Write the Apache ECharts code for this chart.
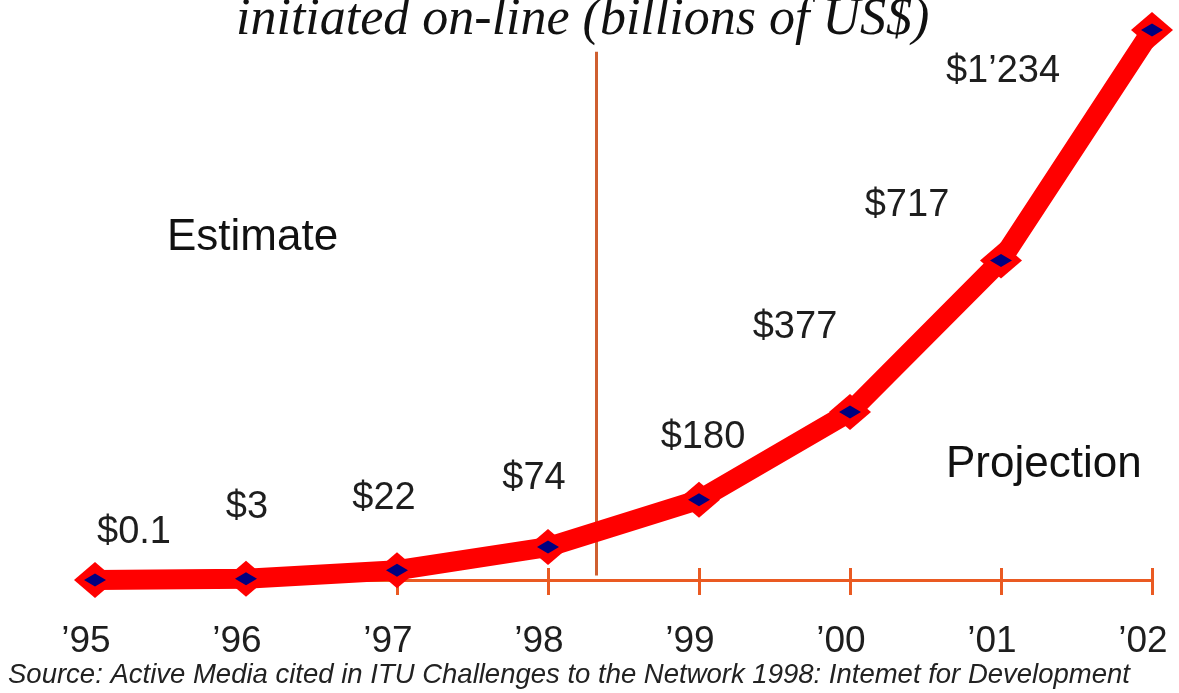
<!DOCTYPE html>
<html>
<head>
<meta charset="utf-8">
<script src="https://cdn.jsdelivr.net/npm/echarts@6/dist/echarts.min.js"></script>
<style>
  html, body { margin: 0; padding: 0; background: #fff; }
  #chart { width: 1179px; height: 693px; }
</style>
</head>
<body>
<div id="chart"></div>
<script>
// Years on the category axis
const years = ['\u201995', '\u201996', '\u201997', '\u201998', '\u201999', '\u201900', '\u201901', '\u201902'];
// Commerce initiated on-line, billions of US$
const revenue = [0.1, 3, 22, 74, 180, 377, 717, 1234];
// Where each value label sits relative to its point (px: dx, dy)
const labelOffsets = [[39, -47], [1, -71], [-13, -72], [-14, -69], [4, -62], [-55, -84], [-94, -55], [-149, 42]];

const SANS = '"Liberation Sans", Arial, sans-serif';
const SERIF = '"Liberation Serif", "Times New Roman", serif';
const AXIS_ORANGE = '#ea5a22';
const RED = '#ff0000';

function money(v) {
  if (v >= 1000) {
    return '$' + Math.floor(v / 1000) + '\u2019' + String(v % 1000).padStart(3, '0');
  }
  return '$' + v;
}

const chart = echarts.init(document.getElementById('chart'));

const option = {
  backgroundColor: '#ffffff',
  animation: false,
  grid: { left: 95, right: 27, top: 30, bottom: 113 },
  xAxis: [
    {
      type: 'category',
      position: 'bottom',
      data: years,
      boundaryGap: false,
      axisLine: { lineStyle: { color: AXIS_ORANGE, width: 3 } },
      axisTick: { show: true, inside: false, length: 15, lineStyle: { color: AXIS_ORANGE, width: 3 } },
      axisLabel: {
        margin: 43,
        fontFamily: SANS,
        fontSize: 37,
        color: '#1e1e1e',
        padding: [0, 18, 0, 0]
      },
      splitLine: { show: false }
    },
    {
      // upper half of the crossing tick marks
      type: 'category',
      position: 'bottom',
      data: years,
      boundaryGap: false,
      axisLine: { show: false },
      axisTick: { show: true, inside: true, length: 12, lineStyle: { color: AXIS_ORANGE, width: 3 } },
      axisLabel: { show: false },
      splitLine: { show: false }
    }
  ],
  yAxis: {
    type: 'value',
    min: 0,
    max: Math.max(...revenue),
    show: false,
    splitLine: { show: false }
  },
  series: [
    {
      // the thick red trend line
      type: 'line',
      data: revenue,
      lineStyle: { color: RED, width: 20, join: 'miter' },
      showSymbol: false,
      symbol: 'none',
      z: 3
    },
    {
      // red diamond collar around each point
      type: 'scatter',
      data: revenue,
      symbol: 'diamond',
      symbolSize: [42, 36],
      itemStyle: { color: RED, opacity: 1 },
      silent: true,
      z: 4
    },
    {
      // navy diamond marker, carrying the value labels
      type: 'scatter',
      data: revenue.map((v, i) => ({
        value: v,
        label: { offset: labelOffsets[i] }
      })),
      symbol: 'diamond',
      symbolSize: [22, 13],
      itemStyle: { color: '#000080', opacity: 1 },
      label: {
        show: true,
        position: 'inside',
        formatter: p => money(p.value),
        fontFamily: SANS,
        fontSize: 38,
        color: '#1e1e1e'
      },
      silent: true,
      z: 5
    }
  ]
};

chart.setOption(option);

// Divider between estimated and projected years, a third of the way from '98 to '99
const xa = chart.convertToPixel({ xAxisIndex: 0 }, years[3]);
const xb = chart.convertToPixel({ xAxisIndex: 0 }, years[4]);
const dividerX = Math.round(xa + 0.32 * (xb - xa)) + 0.5;
const dividerTop = chart.convertToPixel({ yAxisIndex: 0 }, 1185);
const dividerBottom = chart.convertToPixel({ yAxisIndex: 0 }, 10);

chart.setOption({
  graphic: [
    {
      type: 'text',
      left: 236,
      top: -6,
      style: {
        text: 'initiated on-line (billions of US$)',
        font: 'italic 52px ' + SERIF,
        fill: '#111'
      },
      z: 10
    },
    {
      type: 'line',
      shape: { x1: dividerX, y1: dividerTop, x2: dividerX, y2: dividerBottom },
      style: { stroke: '#cf5f30', lineWidth: 3 },
      z: 1
    },
    {
      type: 'text',
      left: 167,
      top: 216,
      style: { text: 'Estimate', font: '44px ' + SANS, fill: '#111' }
    },
    {
      type: 'text',
      left: 946,
      top: 443,
      style: { text: 'Projection', font: '44px ' + SANS, fill: '#111' }
    },
    {
      type: 'text',
      left: 8,
      top: 662,
      style: {
        text: 'Source: Active Media cited in ITU Challenges to the Network 1998: Intemet for Development',
        font: 'italic 27.5px ' + SANS,
        fill: '#222'
      }
    }
  ]
});
</script>
</body>
</html>
